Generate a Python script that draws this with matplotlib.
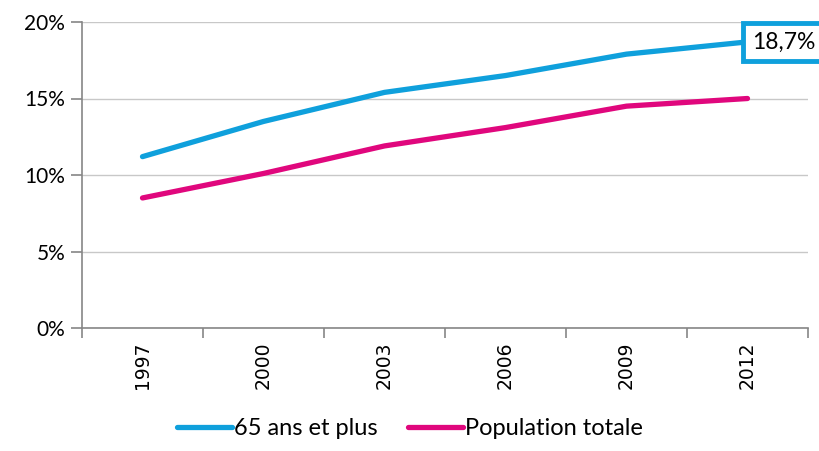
import matplotlib
matplotlib.use("Agg")
import matplotlib.pyplot as plt
from matplotlib.ticker import FixedLocator, NullFormatter

years = ["1997", "2000", "2003", "2006", "2009", "2012"]
seniors = [11.2, 13.5, 15.4, 16.5, 17.9, 18.7]
total = [8.5, 10.1, 11.9, 13.1, 14.5, 15.0]
series_names = ["65 ans et plus", "Population totale"]
yticks = [0, 5, 10, 15, 20]
ytick_labels = ["0%", "5%", "10%", "15%", "20%"]
last_label = "18,7%"

blue = "#0FA0DC"
pink = "#E0077D"
font = ["Lato", "DejaVu Sans"]

fig = plt.figure(figsize=(8.2, 4.51), dpi=100)
ax = fig.add_axes([82 / 820, 1 - 328 / 451, (808 - 82) / 820, (328 - 22) / 451])

x = list(range(len(years)))
ax.plot(x, seniors, color=blue, lw=3.8, solid_capstyle="round", label=series_names[0], zorder=3)
ax.plot(x, total, color=pink, lw=3.8, solid_capstyle="round", label=series_names[1], zorder=3)

ax.set_xlim(-0.5, len(years) - 0.5)
ax.set_ylim(0, 20)
ax.set_yticks(yticks)
ax.set_yticklabels(ytick_labels, fontsize=15, family=font)
ax.yaxis.grid(True, color="#C8C8C8", lw=1)
ax.set_axisbelow(True)

ax.set_xticks(x)
ax.set_xticklabels(years, rotation=90, fontsize=13.5, family="DejaVu Sans")
ax.tick_params(axis="x", which="major", length=0, pad=10)
ax.xaxis.set_minor_locator(FixedLocator([i - 0.5 for i in range(len(years) + 1)]))
ax.xaxis.set_minor_formatter(NullFormatter())
ax.tick_params(axis="x", which="minor", length=7, width=1.2, color="#868686")
ax.tick_params(axis="y", length=8, width=1.2, color="#868686", pad=4)

for s in ["top", "right"]:
    ax.spines[s].set_visible(False)
for s in ["left", "bottom"]:
    ax.spines[s].set_color("#868686")
    ax.spines[s].set_linewidth(1.2)

ax.annotate(last_label, xy=(x[-1], seniors[-1]), xytext=(3, 0), textcoords="offset points",
            ha="left", va="center", fontsize=16.5, family=font, color="black",
            bbox=dict(boxstyle="square,pad=0.38", fc="white", ec=blue, lw=3.5),
            annotation_clip=False, zorder=5)

leg = fig.legend(loc="lower center", bbox_to_anchor=(0.5, -0.02), ncol=2, frameon=False,
                 prop={"family": font, "size": 17}, handlelength=2.3, handletextpad=0.1,
                 columnspacing=1.3)

fig.savefig("out.png", dpi=100)
